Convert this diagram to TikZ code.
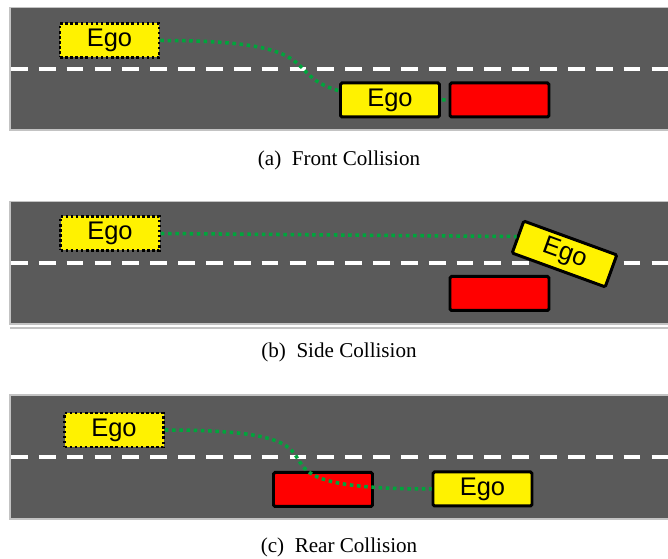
\documentclass[tikz,border=0pt]{standalone}
\usepackage{fontspec}
\setmainfont{Liberation Serif}
\newfontfamily\carfont{Liberation Sans}
\definecolor{roadgray}{RGB}{90,90,90}
\definecolor{edgegray}{RGB}{195,195,195}
\definecolor{pathgreen}{RGB}{0,165,60}
\begin{document}
\begin{tikzpicture}[
    road/.style={fill=roadgray, draw=edgegray, line width=0.6pt},
    lane/.style={draw=white, line width=2.1pt, dash pattern=on 0.335cm off 0.222cm},
    car/.style={draw=black, line width=1.7pt, rounded corners=0.8pt, minimum width=1.98cm, minimum height=0.68cm, inner sep=0pt, font=\carfont\fontsize{14.5}{16}\selectfont},
    ego/.style={car, fill=yellow},
    ghost/.style={car, fill=yellow, rounded corners=0pt, line width=1.6pt, dash pattern=on 1.45pt off 1.45pt},
    obstacle/.style={car, fill=red},
    trace/.style={draw=pathgreen, line width=2pt, dash pattern=on 2pt off 2.1pt},
    caption/.style={font=\fontsize{12}{14}\selectfont}
]
\useasboundingbox (0,0) rectangle (13.36,11.18);
% the three roads
\foreach \ylo/\yhi in {8.58/11.03, 4.70/7.15, 0.80/3.28}{
    \draw[road] (0.2,\ylo) rectangle (13.6,\yhi);
    \draw[lane] (0.22,{(\ylo+\yhi)/2}) -- (13.6,{(\ylo+\yhi)/2});
}
\draw[draw=edgegray, line width=0.6pt] (0.2,4.62) -- (13.6,4.62);
% (a) front
\node[ghost] (egoA) at (2.19,10.37) {Ego};
\node[obstacle] (redA) at (9.99,9.18) {};
\draw[trace] (egoA.east) .. controls +(4.6,0) and +(-4.6,0) .. (redA.west);
\node[ego] (egoA2) at (7.80,9.18) {Ego};
\node[caption] (capA) at (6.78,7.98) {(a)\ \ Front Collision};
% (b) side
\node[ghost] (egoB) at (2.20,6.51) {Ego};
\node[obstacle] (redB) at (9.99,5.31) {};
\node[ego, rotate=-20] (egoB2) at (11.29,6.10) {Ego};
\draw[trace] (egoB.east) -- (egoB2.west);
\node[caption] (capB) at (6.78,4.13) {(b)\ \ Side Collision};
% (c) rear
\node[ghost] (egoC) at (2.28,2.58) {Ego};
\node[obstacle] (redC) at (6.46,1.39) {};
\node[ego] (egoC2) at (9.65,1.40) {Ego};
\draw[trace] (egoC.east) .. controls +(4.6,0) and +(-4.6,0) .. (egoC2.west);
\node[caption] (capC) at (6.78,0.24) {(c)\ \ Rear Collision};
\end{tikzpicture}
\end{document}
